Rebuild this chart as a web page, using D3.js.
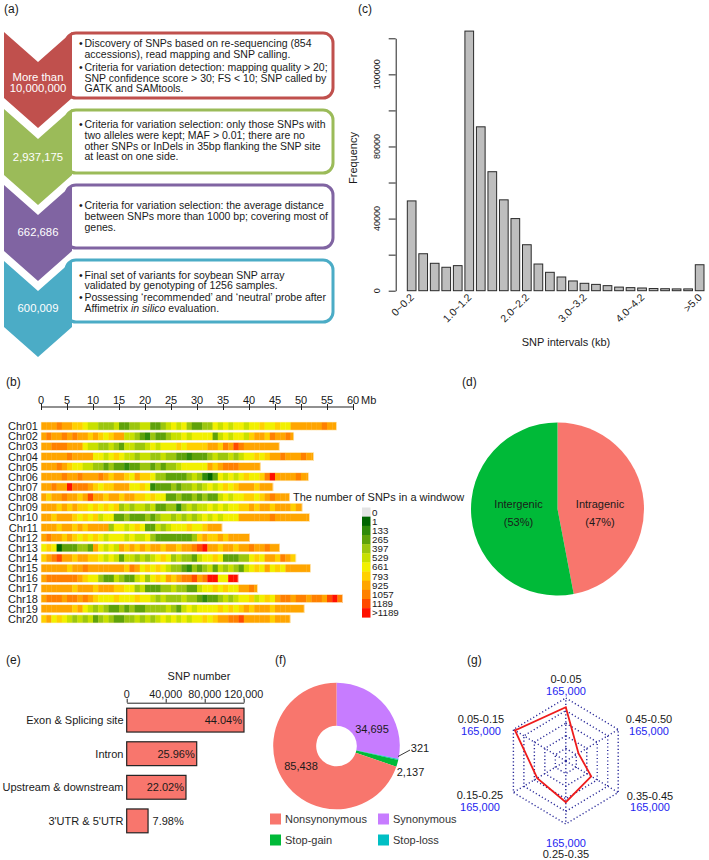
<!DOCTYPE html>
<html><head><meta charset="utf-8">
<script src="https://cdn.jsdelivr.net/npm/d3@7"></script>
<style>
body{margin:0;background:#fff}
svg{display:block}
text{font-family:"Liberation Sans",Arial,Helvetica,sans-serif;fill:#1a1a1a}
</style></head>
<body><svg id="c" width="709" height="860"></svg>
<script>
// ---------------- DATA ----------------
// (a) flow chart
const flowCounts = [["More than","10,000,000"],["2,937,175"],["662,686"],["600,009"]];
const flowColors = ["#c0504d","#9bbb59","#8064a2","#4bacc6"];
const flowLines = [
  [["•","Discovery of SNPs based on re-sequencing (854"],["","accessions), read mapping and SNP calling."],["•","Criteria for variation detection: mapping quality > 20;"],["","SNP confidence score > 30; FS < 10; SNP called by"],["","GATK and SAMtools."]],
  [["•","Criteria for variation selection: only those SNPs with"],["","two alleles were kept; MAF > 0.01; there are no"],["","other SNPs or InDels in 35bp flanking the SNP site"],["","at least on one side."]],
  [["•","Criteria for variation selection: the average distance"],["","between SNPs more than 1000 bp; covering most of"],["","genes."]],
  [["•","Final set of variants for soybean SNP array"],["","validated by  genotyping of 1256 samples."],["•","Possessing ‘recommended’ and ‘neutral’ probe after"],["","Affimetrix *in silico* evaluation."]]
];

// (b) SNP density heatmap (1 Mb windows, level 0..b)
const chromNames = ["Chr01","Chr02","Chr03","Chr04","Chr05","Chr06","Chr07","Chr08","Chr09","Chr10","Chr11","Chr12","Chr13","Chr14","Chr15","Chr16","Chr17","Chr18","Chr19","Chr20"];
const chromLengths = [56.8,48.6,45.8,52.4,42.2,51.4,44.6,47.8,50.2,51.6,34.8,40.1,45.9,49.0,51.8,37.9,41.6,58.0,50.6,47.9];
const chromLevels = [
  "888 9 88 77 6 554445 334 455 334 5656 43344 6 5656656 6766766 888888988",
  "89889898878 767 88 554 3243 34 5565 6666 3 5656657 88798898",
  "88999888 6 55445435 54456 5666 767777 88798 a 98888888",
  "8888898888 66 5676 5545 54454 433 2 3334 54454 56676 7889888988",
  "888987 6655 443433 2334 4343445 66666 878 99988 888",
  "8888988988898 7887 68776 44333 3454 213 6565 67667 9 b 8888988",
  "88988 b 999 8767 7888 6676 233 34344 54565 6767 8887888",
  "878898878 a 887887887 7676 6 33433 43433 5656 67767 89888",
  "888787877 676767 454554 5334424 545565 656677 87887 888788",
  "887888 76767566 334333434 5545454 5656566 6 88888898888888",
  "8887887878888 4 665676 335456 667667 888",
  "898878 767676566 656556 433333334 78778788 88 9",
  "676 1 3 33443 865 65 8787 87887887889 ab 8878 8788988988",
  "789 a 8878877 6565 3 554545 676 454435 6676 33344 676887987",
  "88888788988888887 9 8676765 4432 43453 545435 676 867688888",
  "89999998 766 4335 43356 4676 87899 a 89 bb 66 bb",
  "8888887 888788877 6645 3334454 433 5667 6766 8898",
  "8999899898 766676 667665 454 44544 3233 4545 66756 768998998998ab98",
  "88888878 65454 33434334 444543 56566 6676767 878887888888",
  "786 7654 5453454 334454 5456565 6566767 8899a8 88887888"
];
const heatColors = ["#e4e4e4","#006400","#2f8a0a","#5fa20a","#9cc60e","#c8e000","#f2f000","#ffd000","#ffa500","#ff8000","#ff4a00","#ff1000"];
const heatLegendLabels = ["0","1","133","265","397","529","661","793","925","1057","1189",">1189"];
const mbTicks = [0,5,10,15,20,25,30,35,40,45,50,55,60];

// (c) SNP interval histogram
const intervalBins = ["0~0.2","0.2~0.4","0.4~0.6","0.6~0.8","0.8~1.0","1.0~1.2","1.2~1.4","1.4~1.6","1.6~1.8","1.8~2.0","2.0~2.2","2.2~2.4","2.4~2.6","2.6~2.8","2.8~3.0","3.0~3.2","3.2~3.4","3.4~3.6","3.6~3.8","3.8~4.0","4.0~4.2","4.2~4.4","4.4~4.6","4.6~4.8","4.8~5.0",">5.0"];
const intervalFreq = [49800,20500,15200,13000,13900,144000,90900,66000,50400,40000,25500,14800,10200,7600,5400,4100,3500,2800,2000,1700,1500,1200,1100,1000,1000,14400];
const intervalShown = ["0~0.2","1.0~1.2","2.0~2.2","3.0~3.2","4.0~4.2",">5.0"];
const freqTicks = [0,20000,40000,60000,80000,100000,120000,140000];
const freqTickLabels = {0:"0",40000:"40000",80000:"80000",120000:"100000"};

// (d) genic pie
const genicNames = ["Intragenic","Intergenic"];
const genicPct = [47,53];
const genicColors = ["#f8766d","#00ba38"];

// (e) annotation bars
const annoCats = ["Exon & Splicing site","Intron","Upstream & downstream","3'UTR & 5'UTR"];
const annoValues = [120300,71800,60800,21900];
const annoPct = ["44.04%","25.96%","22.02%","7.98%"];
const annoTicks = [0,40000,80000,120000];

// (f) coding effect donut
const effectNames = ["Synonymous","Stop-loss","Stop-gain","Nonsynonymous"];
const effectValues = [34695,321,2137,85438];
const effectColors = ["#c77cff","#00bfc4","#00ba38","#f8766d"];
const effectLegend = ["Nonsynonymous","Synonymous","Stop-gain","Stop-loss"];

// (g) MAF radar
const mafBins = ["0-0.05","0.45-0.50","0.35-0.45","0.25-0.35","0.15-0.25","0.05-0.15"];
const mafValues = [141000,40000,80000,108000,90000,160000];
const mafMax = 165000;
const mafMaxLabel = "165,000";

// ---------------- DRAW ----------------
const svg = d3.select("#c");
const FS = 11;

// panel letters
[["(a)",4,13],["(b)",6,386],["(c)",358,13],["(d)",462,386],["(e)",6,664],["(f)",275,664],["(g)",467,664]]
  .forEach(([t,x,y])=>svg.append("text").attr("x",x).attr("y",y).attr("font-size",12).text(t));

// ---- (a)
(function(){
  const g = svg.append("g");
  const tops = [32,109,185,261];
  const boxes = [[33,98],[110,173],[185,248],[260,322]];
  const baselines = [[47,57.5,71,81.5,92],[128,139,149.7,160.3],[208.5,219.5,230.5],[278.5,289.3,301,311.8]];
  flowColors.forEach((c,i)=>{
    g.append("rect").attr("x",66).attr("y",boxes[i][0]).attr("width",267).attr("height",boxes[i][1]-boxes[i][0])
      .attr("rx",10).attr("fill","#fff").attr("stroke",c).attr("stroke-width",3);
  });
  flowColors.forEach((c,i)=>{
    const x0=4,x1=72,xc=38,yt=tops[i],ys=yt+66,d=30;
    g.append("path").attr("d",d3.line()([[x0,yt],[xc,yt+d],[x1,yt],[x1,ys],[xc,ys+d],[x0,ys]])+"Z").attr("fill",c);
    const lab = flowCounts[i];
    const cy = i===0 ? [81,91.5] : [[161],[236],[312]][i-1];
    lab.forEach((t,k)=>g.append("text").attr("x",38).attr("y",cy[k]).attr("text-anchor","middle")
      .attr("font-size",11.3).style("fill","#fff").text(t));
    flowLines[i].forEach((ln,k)=>{
      const y = baselines[i][k];
      if(ln[0]) g.append("text").attr("x",79).attr("y",y).attr("font-size",10.5).text(ln[0]);
      const t = g.append("text").attr("x",84.5).attr("y",y).attr("font-size",10.5);
      ln[1].split("*").forEach((seg,j)=>{ t.append("tspan").attr("font-style", j%2? "italic":"normal").text(seg); });
    });
  });
})();

// ---- (b)
(function(){
  const g = svg.append("g");
  const x = d3.scaleLinear().domain([0,60]).range([41,353]);
  const y = d3.scaleBand().domain(chromNames).range([422,623]).paddingInner(0.2);
  const ax = g.append("g").attr("transform","translate(0,407)")
    .call(d3.axisBottom(x).tickValues(mbTicks).tickSize(4).tickFormat(""));
  ax.select(".domain").attr("stroke","#222").attr("stroke-width",1.2).attr("d","M41,0H353");
  ax.selectAll(".tick line").attr("stroke","#222").attr("y1",-3).attr("y2",3);
  mbTicks.forEach(v=>g.append("text").attr("x",x(v)).attr("y",403.5).attr("text-anchor","middle").attr("font-size",FS).text(v));
  g.append("text").attr("x",x(60)+8).attr("y",403.5).attr("text-anchor","start").attr("font-size",FS).text("Mb");
  chromNames.forEach((nm,i)=>{
    const L = chromLengths[i];
    const lev = chromLevels[i].replace(/ /g,"");
    g.append("text").attr("x",38).attr("y",y(nm)+y.bandwidth()/2+4).attr("text-anchor","end").attr("font-size",FS).text(nm);
    for(let k=0;k<lev.length && k<L;k++){
      const a = x(k), b = x(Math.min(k+1,L));
      g.append("rect").attr("x",a).attr("y",y(nm)).attr("width",b-a+0.3).attr("height",y.bandwidth())
        .attr("fill",heatColors[parseInt(lev[k],16)]);
    }
    g.append("rect").attr("x",x(0)).attr("y",y(nm)).attr("width",x(L)-x(0)).attr("height",y.bandwidth())
      .attr("fill","none").attr("stroke","#fff3d8").attr("stroke-width",0.6);
  });
  g.append("text").attr("x",293).attr("y",500.5).attr("font-size",FS).text("The number of SNPs in a windwow");
  const ly = d3.scaleBand().domain(heatLegendLabels).range([507.5,617.3]);
  heatLegendLabels.forEach((l,i)=>{
    g.append("rect").attr("x",362).attr("y",ly(l)).attr("width",8.5).attr("height",ly.bandwidth()+0.3).attr("fill",heatColors[i]);
    g.append("text").attr("x",372).attr("y",ly(l)+ly.bandwidth()/2+3.5).attr("font-size",9.8).text(l);
  });
})();

// ---- (c)
(function(){
  const g = svg.append("g");
  const x = d3.scaleBand().domain(intervalBins).range([405.9,705.4]).paddingInner(0.245).paddingOuter(0.1225);
  const y = d3.scaleLinear().domain([0,140000]).range([290.7,38.3]);
  g.selectAll("rect.bar").data(intervalBins).enter().append("rect")
    .attr("x",d=>x(d)).attr("width",x.bandwidth())
    .attr("y",(d,i)=>y(intervalFreq[i])).attr("height",(d,i)=>y(0)-y(intervalFreq[i]))
    .attr("fill","#bebebe").attr("stroke","#2a2a2a").attr("stroke-width",1);
  const ay = g.append("g").attr("transform","translate(395.7,0)")
    .call(d3.axisLeft(y).tickValues(freqTicks).tickSize(7).tickSizeOuter(0).tickFormat(""));
  ay.select(".domain").attr("stroke","#222");
  ay.selectAll(".tick line").attr("stroke","#222");
  Object.keys(freqTickLabels).forEach(v=>{
    g.append("text").attr("transform",`translate(380,${y(+v)}) rotate(-90)`).attr("text-anchor","middle")
      .attr("font-size",9).text(freqTickLabels[v]);
  });
  intervalShown.forEach(l=>{
    g.append("text").attr("transform",`translate(${x(l)+x.bandwidth()/2+3},${298}) rotate(-45)`)
      .attr("text-anchor","end").attr("font-size",10.5).text(l);
  });
  g.append("text").attr("x",566).attr("y",345.5).attr("text-anchor","middle").attr("font-size",FS).text("SNP intervals (kb)");
  g.append("text").attr("transform","translate(356.5,158) rotate(-90)").attr("text-anchor","middle").attr("font-size",FS).text("Frequency");
})();

// ---- (d)
(function(){
  const g = svg.append("g").attr("transform","translate(557.5,509)");
  const pie = d3.pie().sort(null).value(d=>d)(genicPct);
  const arc = d3.arc().innerRadius(0).outerRadius(86.5);
  g.selectAll("path").data(pie).enter().append("path").attr("d",arc).attr("fill",(d,i)=>genicColors[i]);
  const lx = [42.5,-39];
  genicNames.forEach((n,i)=>{
    g.append("text").attr("x",lx[i]).attr("y",-1).attr("text-anchor","middle").attr("font-size",FS).text(n);
    g.append("text").attr("x",lx[i]).attr("y",16.5).attr("text-anchor","middle").attr("font-size",FS).text(`(${genicPct[i]}%)`);
  });
})();

// ---- (e)
(function(){
  const g = svg.append("g");
  const x = d3.scaleLinear().domain([0,120000]).range([126.7,243.7]);
  const y = d3.scaleBand().domain(annoCats).range([703.5,837.5]).paddingInner(0.29).paddingOuter(0.14);
  const ax = g.append("g").attr("transform","translate(0,702.7)")
    .call(d3.axisTop(x).tickValues(annoTicks).tickSize(4).tickSizeOuter(0).tickFormat(""));
  ax.select(".domain").attr("stroke","#222");
  ax.selectAll(".tick line").attr("stroke","#222");
  annoTicks.forEach(v=>g.append("text").attr("x",x(v)).attr("y",697.5).attr("text-anchor","middle").attr("font-size",10.8).text(d3.format(",")(v)));
  g.append("text").attr("x",199).attr("y",680).attr("text-anchor","middle").attr("font-size",FS).text("SNP number");
  annoCats.forEach((c,i)=>{
    const yy = y(c), h = y.bandwidth();
    g.append("rect").attr("x",x(0)).attr("y",yy).attr("width",x(annoValues[i])-x(0)).attr("height",h)
      .attr("fill","#f8766d").attr("stroke","#222").attr("stroke-width",1.2);
    g.append("text").attr("x",123.5).attr("y",yy+h/2+4).attr("text-anchor","end").attr("font-size",FS).text(c);
    const inside = i<3;
    g.append("text").attr("x", inside ? x(annoValues[i])-2 : x(annoValues[i])+4.5).attr("y",yy+h/2+4)
      .attr("text-anchor",inside?"end":"start").attr("font-size",FS).text(annoPct[i]);
  });
})();

// ---- (f)
(function(){
  const cx=336.5, cy=746;
  const g = svg.append("g").attr("transform",`translate(${cx},${cy})`);
  const pie = d3.pie().sort(null).value(d=>d)(effectValues);
  const arc = d3.arc().innerRadius(20.3).outerRadius(63.3);
  g.selectAll("path").data(pie).enter().append("path").attr("d",arc).attr("fill",(d,i)=>effectColors[i]);
  const fmt = d3.format(",");
  g.append("text").attr("x",35.5).attr("y",-13.5).attr("text-anchor","middle").attr("font-size",FS).text(fmt(effectValues[0]));
  g.append("text").attr("x",-35.5).attr("y",23.5).attr("text-anchor","middle").attr("font-size",FS).text(fmt(effectValues[3]));
  g.append("line").attr("x1",61.5).attr("y1",10.5).attr("x2",73.5).attr("y2",4).attr("stroke","#222").attr("stroke-width",0.9);
  g.append("text").attr("x",83.5).attr("y",6).attr("text-anchor","middle").attr("font-size",FS).text(fmt(effectValues[1]));
  g.append("text").attr("x",74).attr("y",30).attr("text-anchor","middle").attr("font-size",FS).text(fmt(effectValues[2]));
  const lg = svg.append("g");
  const pos = [[270,813.5],[378,813.5],[270,834.5],[378,834.5]];
  effectLegend.forEach((n,i)=>{
    const c = effectColors[effectNames.indexOf(n)];
    lg.append("rect").attr("x",pos[i][0]).attr("y",pos[i][1]).attr("width",11).attr("height",11).attr("fill",c);
    lg.append("text").attr("x",pos[i][0]+15).attr("y",pos[i][1]+9.5).attr("font-size",FS).style("fill","#333").text(n);
  });
})();

// ---- (g)
(function(){
  const cx=565.8, cy=761, rx=60.5, ry=63;
  const g = svg.append("g");
  const n = mafBins.length;
  const ang = i => i*2*Math.PI/n;
  const r = d3.scaleLinear().domain([0,mafMax]).range([0,1]);
  const pt = (i,f)=>[cx+rx*f*Math.sin(ang(i)), cy-ry*f*Math.cos(ang(i))];
  const dotted = s=>s.attr("fill","none").attr("stroke","#2b2b9a").attr("stroke-width",1.4).attr("stroke-dasharray","1.2,2.3");
  for(let lv=1; lv<=5; lv++){
    const f = lv/5;
    dotted(g.append("path").attr("d",d3.line()(d3.range(n).map(i=>pt(i,f)))+"Z"));
  }
  d3.range(n).forEach(i=>dotted(g.append("path").attr("d",d3.line()([[cx,cy],pt(i,1)]))));
  g.append("path").attr("d",d3.line()(mafValues.map((v,i)=>pt(i,r(v))))+"Z")
    .attr("fill","none").attr("stroke","#ee1c1c").attr("stroke-width",1.8);
  const labelPos = [[566,682.5,694.5],[649,723,734.5],[650,800,811],[566,858,847],[480,799,811],[481,723,735]];
  mafBins.forEach((b,i)=>{
    const [lx,ly1,ly2] = labelPos[i];
    g.append("text").attr("x",lx).attr("y",ly1).attr("text-anchor","middle").attr("font-size",FS).text(b);
    g.append("text").attr("x",lx).attr("y",ly2).attr("text-anchor","middle").attr("font-size",FS).style("fill","#2424f0").text(mafMaxLabel);
  });
})();
</script>
</body></html>
